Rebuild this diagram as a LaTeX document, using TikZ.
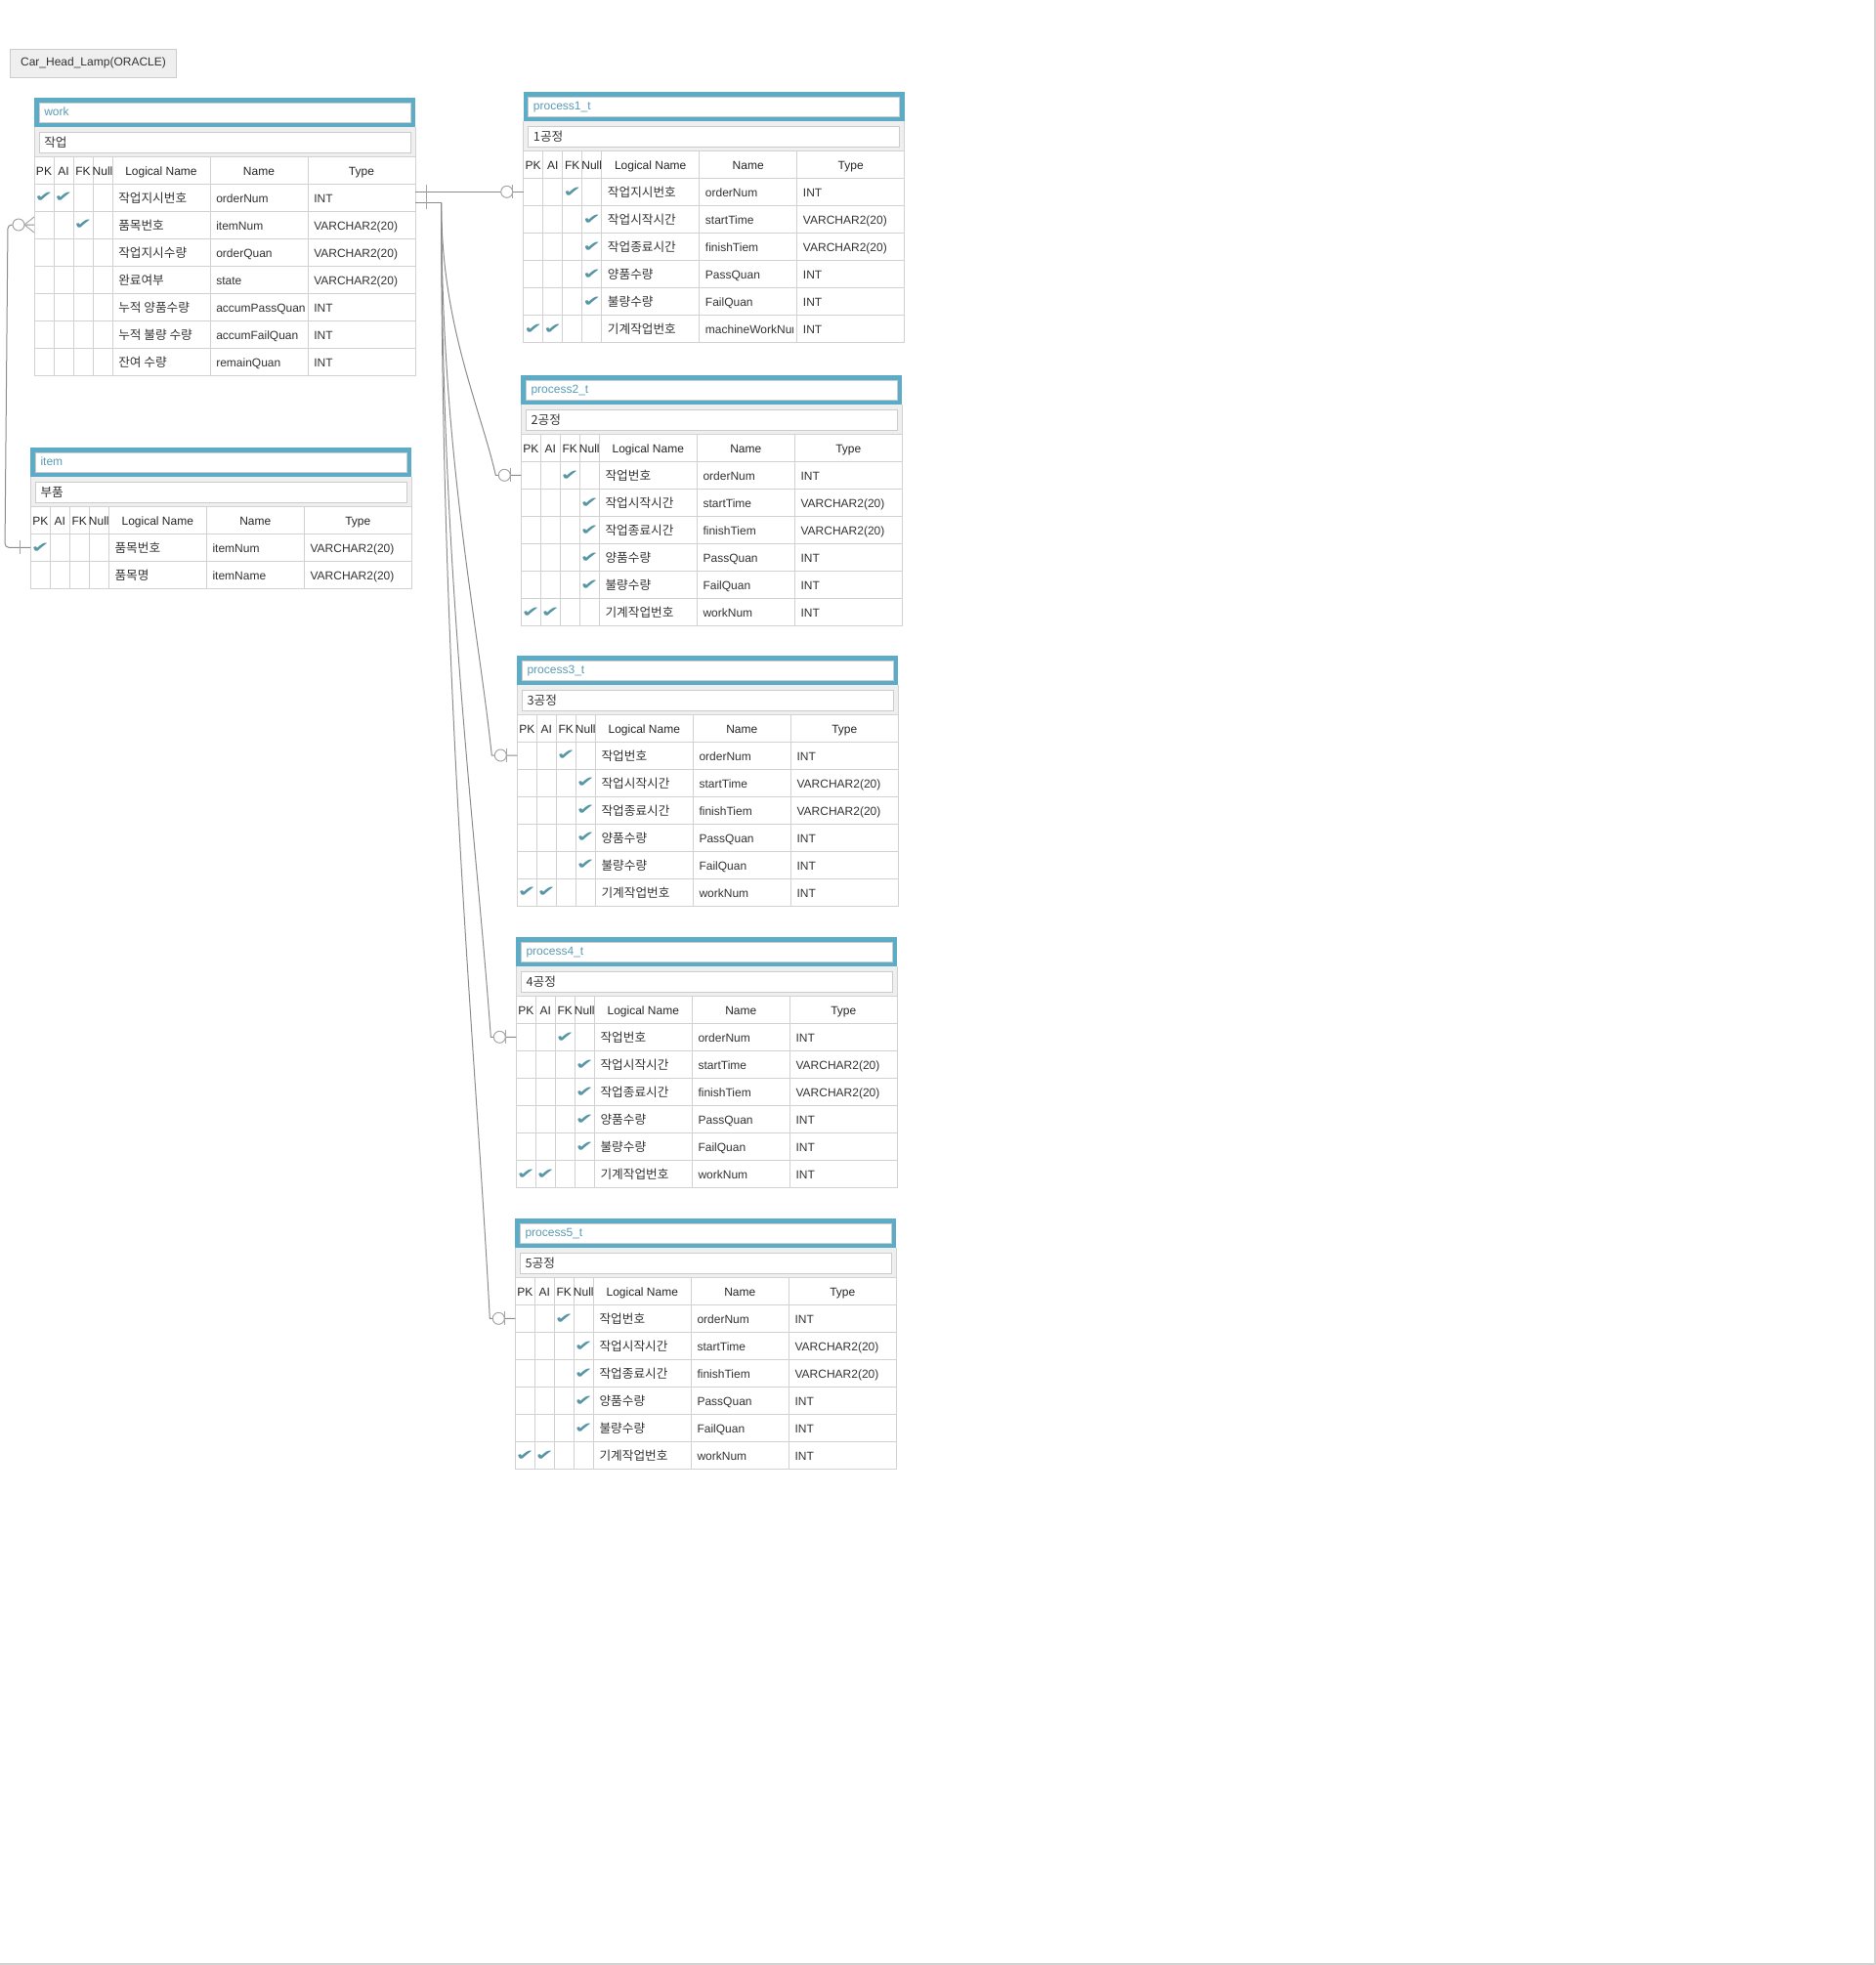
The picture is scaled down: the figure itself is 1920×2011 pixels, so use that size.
\documentclass[tikz,border=0pt]{standalone}
\usepackage{fontspec}
\usepackage{graphicx}
\setmainfont{Liberation Sans}
\newfontfamily\kr{Noto Sans CJK KR}
\newfontfamily\symfont{DejaVu Sans}

\definecolor{hdblue}{RGB}{92,172,200}
\definecolor{hdtext}{RGB}{90,155,180}
\definecolor{chkcol}{RGB}{88,150,165}
\definecolor{gridcol}{RGB}{210,210,210}
\definecolor{cmtbg}{RGB}{239,239,239}
\definecolor{boxcol}{RGB}{204,204,204}
\definecolor{txtcol}{RGB}{51,51,51}
\definecolor{relcol}{RGB}{140,140,140}
\definecolor{markcol}{RGB}{165,165,165}

\tikzset{
  cell/.style={inner sep=0pt, text height=8.6pt, text depth=0.5pt,
    font=\fontsize{9}{10}\selectfont, text=txtcol},
  lcell/.style={cell, anchor=west},
  krcell/.style={lcell, font=\kr\fontsize{9.5}{10}\selectfont},
  hcell/.style={cell, text=black!85},
  tname/.style={lcell, text=hdtext},
  chk/.style={inner sep=0pt, text=chkcol, font=\symfont\fontsize{14}{14}\selectfont},
  gridline/.style={draw=gridcol, line width=0.75pt},
  innerbox/.style={draw=boxcol, fill=white, line width=0.75pt},
  relline/.style={draw=relcol, line width=0.75pt},
  relmark/.style={draw=markcol, line width=0.75pt},
  modelbox/.style={draw=boxcol, fill=cmtbg, line width=0.75pt, inner sep=0pt,
    minimum width=127.8pt, minimum height=21.75pt,
    font=\fontsize{9}{10}\selectfont, text=txtcol}
}

\newcommand{\ck}{\scalebox{1.2}[0.8]{✔}}
\newcommand{\nc}{}

% name, x, y, title, comment, rows
\newcommand{\erdtable}[6]{%
  \begin{scope}[shift={(#2,#3)}]
    \fill[hdblue] (0,0) rectangle (390,30);
    \draw[innerbox] (5,5) rectangle (385,25);
    \node[tname] (#1) at (10,13) {#4};
    \fill[cmtbg] (0,30) rectangle (390,60);
    \draw[innerbox] (5,35) rectangle (385,56);
    \node[krcell] (#1-cmt) at (10,45) {#5};
    \draw[gridline] (0,30) -- (0,60) (390,30) -- (390,60);
    \draw[gridline] (0,60) rectangle (390,88);
    \foreach \xv in {20,40,60,80,180,280}
      \draw[gridline] (\xv,60) -- (\xv,88);
    \node[hcell] (#1-hpk) at (10,74) {PK};
    \node[hcell] (#1-hai) at (30,74) {AI};
    \node[hcell] (#1-hfk) at (50,74) {FK};
    \node[hcell] (#1-hnull) at (70,74) {Null};
    \node[hcell] (#1-hlg) at (130,74) {Logical Name};
    \node[hcell] (#1-hnm) at (230,74) {Name};
    \node[hcell] (#1-hty) at (335,74) {Type};
    \foreach \cpk/\cai/\cfk/\cnull/\lname/\cname/\ctype [count=\i] in {#6} {
      \pgfmathsetmacro\ya{60+28*\i}
      \pgfmathsetmacro\yb{\ya+28}
      \pgfmathsetmacro\yc{\ya+14}
      \draw[gridline] (0,\ya) rectangle (390,\yb);
      \foreach \xv in {20,40,60,80,180,280}
        \draw[gridline] (\xv,\ya) -- (\xv,\yb);
      \coordinate (#1-\i-w) at (0,\yc);
      \coordinate (#1-\i-e) at (390,\yc);
      \node[chk] (#1-\i-pk) at (10,\yc) {\cpk};
      \node[chk] (#1-\i-ai) at (30,\yc) {\cai};
      \node[chk] (#1-\i-fk) at (50,\yc) {\cfk};
      \node[chk] (#1-\i-null) at (70,\yc) {\cnull};
      \node[krcell] (#1-\i-lg) at (86,\yc) {\lname};
      \begin{scope}
        \clip (180,\ya) rectangle (276,\yb);
        \node[lcell] (#1-\i-nm) at (186,\yc) {\cname};
      \end{scope}
      \node[lcell] (#1-\i-ty) at (286,\yc) {\ctype};
    }
  \end{scope}
}

\begin{document}
\begin{tikzpicture}[x=0.75pt,y=-0.75pt]
  \useasboundingbox (0,0) rectangle (1920,2011);
  \draw[gridcol, line width=1.5pt] (1919,0) -- (1919,2010) -- (0,2010);

  \node[modelbox] (model) at (95.5,64.8) {Car\_Head\_Lamp(ORACLE)};

  \erdtable{work}{35}{100}{work}{작업}{
    \ck/\ck/\nc/\nc/작업지시번호/orderNum/INT,
    \nc/\nc/\ck/\nc/품목번호/itemNum/VARCHAR2(20),
    \nc/\nc/\nc/\nc/작업지시수량/orderQuan/VARCHAR2(20),
    \nc/\nc/\nc/\nc/완료여부/state/VARCHAR2(20),
    \nc/\nc/\nc/\nc/누적 양품수량/accumPassQuan/INT,
    \nc/\nc/\nc/\nc/누적 불량 수량/accumFailQuan/INT,
    \nc/\nc/\nc/\nc/잔여 수량/remainQuan/INT}

  \erdtable{item}{31.3}{458.3}{item}{부품}{
    \ck/\nc/\nc/\nc/품목번호/itemNum/VARCHAR2(20),
    \nc/\nc/\nc/\nc/품목명/itemName/VARCHAR2(20)}

  \erdtable{proc1}{535.7}{94.3}{process1\_t}{1공정}{
    \nc/\nc/\ck/\nc/작업지시번호/orderNum/INT,
    \nc/\nc/\nc/\ck/작업시작시간/startTime/VARCHAR2(20),
    \nc/\nc/\nc/\ck/작업종료시간/finishTiem/VARCHAR2(20),
    \nc/\nc/\nc/\ck/양품수량/PassQuan/INT,
    \nc/\nc/\nc/\ck/불량수량/FailQuan/INT,
    \ck/\ck/\nc/\nc/기계작업번호/machineWorkNum/INT}

  \erdtable{proc2}{533.3}{384.3}{process2\_t}{2공정}{
    \nc/\nc/\ck/\nc/작업번호/orderNum/INT,
    \nc/\nc/\nc/\ck/작업시작시간/startTime/VARCHAR2(20),
    \nc/\nc/\nc/\ck/작업종료시간/finishTiem/VARCHAR2(20),
    \nc/\nc/\nc/\ck/양품수량/PassQuan/INT,
    \nc/\nc/\nc/\ck/불량수량/FailQuan/INT,
    \ck/\ck/\nc/\nc/기계작업번호/workNum/INT}

  \erdtable{proc3}{529.3}{671}{process3\_t}{3공정}{
    \nc/\nc/\ck/\nc/작업번호/orderNum/INT,
    \nc/\nc/\nc/\ck/작업시작시간/startTime/VARCHAR2(20),
    \nc/\nc/\nc/\ck/작업종료시간/finishTiem/VARCHAR2(20),
    \nc/\nc/\nc/\ck/양품수량/PassQuan/INT,
    \nc/\nc/\nc/\ck/불량수량/FailQuan/INT,
    \ck/\ck/\nc/\nc/기계작업번호/workNum/INT}

  \erdtable{proc4}{528.3}{959.3}{process4\_t}{4공정}{
    \nc/\nc/\ck/\nc/작업번호/orderNum/INT,
    \nc/\nc/\nc/\ck/작업시작시간/startTime/VARCHAR2(20),
    \nc/\nc/\nc/\ck/작업종료시간/finishTiem/VARCHAR2(20),
    \nc/\nc/\nc/\ck/양품수량/PassQuan/INT,
    \nc/\nc/\nc/\ck/불량수량/FailQuan/INT,
    \ck/\ck/\nc/\nc/기계작업번호/workNum/INT}

  \erdtable{proc5}{527.3}{1247.3}{process5\_t}{5공정}{
    \nc/\nc/\ck/\nc/작업번호/orderNum/INT,
    \nc/\nc/\nc/\ck/작업시작시간/startTime/VARCHAR2(20),
    \nc/\nc/\nc/\ck/작업종료시간/finishTiem/VARCHAR2(20),
    \nc/\nc/\nc/\ck/양품수량/PassQuan/INT,
    \nc/\nc/\nc/\ck/불량수량/FailQuan/INT,
    \ck/\ck/\nc/\nc/기계작업번호/workNum/INT}

  % work -- process1
  \draw[relline] (work-1-e |- proc1-1-w) -- (proc1-1-w);
  \draw[relmark] (work-1-e |- proc1-1-w) ++(11,-7) -- ++(0,14);
  \draw[relmark, fill=white] (proc1-1-w) ++(-17,0) circle[radius=4.5pt];
  \draw[relmark] (proc1-1-w) ++(-11,-7) -- ++(0,14);

  % work -- process2..5
  \coordinate (wk-out) at ([yshift=-4pt]work-1-e);
  \coordinate (wk-turn) at ([xshift=20pt]wk-out);
  \draw[relline] (wk-out) -- (wk-turn);
  \draw[relmark] (wk-out) ++(11,-7) -- ++(0,14);
  \foreach \t/\ka/\kb/\kc in {proc2/125/16/70, proc3/255/15/140,
                              proc4/385/15/210, proc5/515/15/285} {
    \draw[relline] (wk-turn) .. controls +(0,\ka) and +(-\kb,-\kc) ..
      ([xshift=-19.5pt]\t-1-w) -- (\t-1-w);
    \draw[relmark, fill=white] (\t-1-w) ++(-17,0) circle[radius=4.5pt];
    \draw[relmark] (\t-1-w) ++(-11,-7) -- ++(0,14);
  }

  % work -- item
  \draw[relline, rounded corners=3pt] (work-2-w) -- ++(-27,0)
    -- ([xshift=-19.7pt]item-1-w) -- (item-1-w);
  \draw[relmark] (work-2-w) ++(-10,0) -- ++(10,-8)
    (work-2-w) ++(-10,0) -- ++(10,8);
  \draw[relmark, fill=white] (work-2-w) ++(-16,0) circle[radius=4.5pt];
  \draw[relmark] (item-1-w) ++(-10.6,-7) -- ++(0,14);
\end{tikzpicture}
\end{document}
